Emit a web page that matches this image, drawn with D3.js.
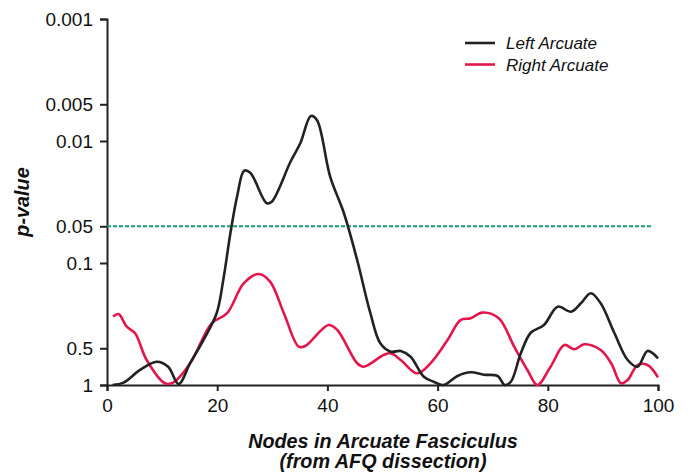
<!DOCTYPE html>
<html>
<head>
 <meta charset="UTF-8">
 <title>p-value along the arcuate fasciculus</title>
 <script src="https://cdn.jsdelivr.net/npm/d3@7/dist/d3.min.js"></script>
 <style>
body {
  margin: 0;
  background: #fff;
}
svg text {
  font-family: "Liberation Sans", Arial, sans-serif;
  fill: #111;
}
.axis path, .axis line {
  stroke: #222;
  stroke-width: 2px;
}
.axis text {
  font-size: 19px;
}
.curve {
  fill: none;
  stroke-width: 2.6px;
  stroke-linejoin: round;
}
.title {
  font-weight: bold;
  font-style: italic;
  font-size: 19.8px;
}
.legend text {
  font-style: italic;
  font-size: 17px;
}
 </style>
</head>
<body>
<svg id="chart" width="689" height="476"></svg>
<script>
// values (node along the tract, p-value)
var leftNodes = [1, 3, 6, 9, 11.1, 13, 15.1, 17.5, 19.9, 21.1, 22.4, 23.6, 24.9, 26, 29, 29.9, 33.3, 35.1, 37, 38.1,
  40.5, 43, 45.4, 47.8, 49.6, 51.5, 53.3, 55.1, 57.5, 59.3, 61.1, 63.6, 66, 68.4, 70.9, 72.2, 73.3, 75.1, 76.9, 79.3,
  81.8, 84.2, 86, 87.8, 89.6, 92.1, 94.5, 96.3, 98.1, 100];
var leftP = [1.0, 0.957, 0.753, 0.644, 0.708, 0.981, 0.66, 0.428, 0.258, 0.138, 0.0568, 0.0286, 0.0175, 0.0182, 0.0324, 0.0315, 0.0148, 0.0104, 0.00624, 0.00673,
  0.0196, 0.0391, 0.0945, 0.258, 0.455, 0.533, 0.526, 0.586, 0.855, 0.94, 1.0, 0.844, 0.787, 0.823, 0.844, 1.0, 0.94, 0.55, 0.373, 0.322,
  0.228, 0.251, 0.214, 0.177, 0.214, 0.377, 0.624, 0.708, 0.526, 0.604];
var rightNodes = [1.1, 2.1, 3.6, 5.1, 7.2, 10.5, 12, 15.1, 19, 21.8, 24.8, 27.5, 29.6, 32.1, 34.8, 36, 40.2, 41.8, 45.4, 46.6,
  50.2, 51.5, 53.3, 56.3, 58.7, 61.8, 64.2, 66, 68.1, 71.1, 73.9, 76.3, 78.1, 80.5, 83, 84.8, 86.6, 89.6, 91.5, 93.3,
  94.5, 96.3, 98.1, 100];
var rightP = [0.275, 0.262, 0.333, 0.377, 0.624, 0.968, 0.957, 0.664, 0.312, 0.258, 0.147, 0.123, 0.142, 0.258, 0.485, 0.479, 0.322, 0.354, 0.664, 0.708,
  0.568, 0.55, 0.624, 0.802, 0.664, 0.428, 0.293, 0.284, 0.255, 0.284, 0.485, 0.753, 1.0, 0.708, 0.47, 0.51, 0.464, 0.517, 0.664, 0.968,
  0.91, 0.686, 0.686, 0.865];
var yTicks = [1, 0.5, 0.1, 0.05, 0.01, 0.005, 0.001];
var xTicks = [0, 20, 40, 60, 80, 100];
var threshold = 0.05;
var seriesNames = ["Left Arcuate", "Right Arcuate"];
var seriesColors = ["#222222", "#e3174b"];

var svg = d3.select("#chart"),
  x = d3.scaleLinear().domain([0, 100]).range([107, 658]),
  y = d3.scaleLog().domain([1, 0.001]).range([385, 19]);

svg.append("g")
  .attr("class", "axis")
  .attr("transform", "translate(0,385)")
  .call(d3.axisBottom(x).tickValues(xTicks).tickSize(6).tickPadding(8).tickSizeOuter(6))
  .call(function(g){ g.select(".domain").attr("fill", "none"); });

svg.append("g")
  .attr("class", "axis")
  .attr("transform", "translate(107,0)")
  .call(d3.axisLeft(y).tickValues(yTicks).tickFormat(d3.format("")).tickSize(7).tickPadding(7).tickSizeOuter(7))
  .call(function(g){ g.select(".domain").attr("fill", "none"); });

svg.selectAll(".axis text").attr("font-family", null).attr("font-size", null);

// significance threshold
svg.append("line")
  .attr("x1", x(0)).attr("x2", x(99))
  .attr("y1", y(threshold)).attr("y2", y(threshold))
  .attr("stroke", "#1a9c7b")
  .attr("stroke-width", 2)
  .attr("stroke-dasharray", "4,2");

var line = d3.line()
  .curve(d3.curveCatmullRom.alpha(0.5))
  .x(function(d){ return x(d[0]); })
  .y(function(d){ return y(d[1]); });

[[rightNodes, rightP], [leftNodes, leftP]].forEach(function(s, i){
  svg.append("path")
    .attr("class", "curve")
    .attr("stroke", seriesColors[1 - i])
    .attr("d", line(d3.zip(s[0], s[1])));
});

var legend = svg.append("g").attr("class", "legend");
seriesNames.forEach(function(name, i){
  var yy = 43 + i * 21.5;
  legend.append("line")
    .attr("x1", 465).attr("x2", 495)
    .attr("y1", yy).attr("y2", yy)
    .attr("stroke", seriesColors[i])
    .attr("stroke-width", 2.6);
  legend.append("text")
    .attr("x", 506).attr("y", yy + 6)
    .text(name);
});

svg.append("text")
  .attr("class", "title")
  .attr("text-anchor", "middle")
  .attr("x", 383).attr("y", 448)
  .text("Nodes in Arcuate Fasciculus");
svg.append("text")
  .attr("class", "title")
  .attr("text-anchor", "middle")
  .attr("x", 383).attr("y", 468)
  .text("(from AFQ dissection)");
svg.append("text")
  .attr("class", "title")
  .attr("text-anchor", "middle")
  .attr("transform", "translate(29,202) rotate(-90)")
  .text("p-value");
</script>
</body>
</html>
